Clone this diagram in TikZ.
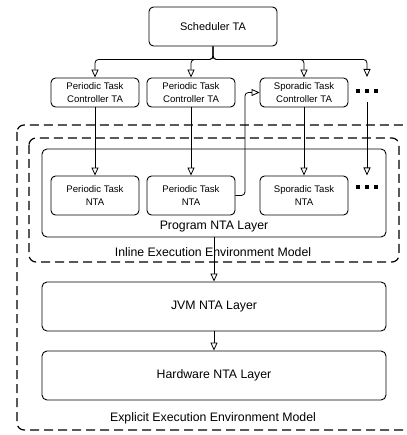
\documentclass[tikz,border=0pt]{standalone}
\usepackage{fontspec}
\setmainfont{Liberation Sans}
\usetikzlibrary{arrows.meta}
\begin{document}
\begin{tikzpicture}[x=1pt,y=-1pt,
  box/.style={draw=black, line width=0.9pt, rounded corners=4.5pt, inner sep=0pt, align=center},
  small/.style={box, minimum width=88pt, minimum height=29pt, font=\fontsize{9.6}{12.3}\selectfont},
  nta/.style={small, minimum height=39pt},
  layer/.style={box, rounded corners=5pt, minimum width=344pt, minimum height=49pt, font=\fontsize{12.3}{14}\selectfont},
  envbox/.style={draw=black, line width=1.2pt, dash pattern=on 9pt off 5pt, rounded corners=7pt},
  envlabel/.style={font=\fontsize{12.3}{14}\selectfont, inner sep=0pt},
  conn/.style={draw=black, line width=0.8pt, rounded corners=3.5pt,
    -{Triangle[open, length=8pt, width=7pt, line width=0.8pt]}},
  dot/.style={fill=black, minimum size=3.8pt, inner sep=0pt}
]
\useasboundingbox (0,0) rectangle (406,435);
\clip (0,0) rectangle (406,435);

% environment frames
\draw[envbox] (17,125) rectangle (424,430);
\node[envlabel] (explicitlbl) at (213,418) {Explicit Execution Environment Model};
\draw[envbox] (29,138) rectangle (399,262);
\node[envlabel] (inlinelbl) at (213,252) {Inline Execution Environment Model};

% program layer
\node[box, rounded corners=5pt, minimum width=344pt, minimum height=88pt] (prog) at (214,193) {};
\node[envlabel] (proglbl) at (214,227) {Program NTA Layer};

% scheduler and controllers
\node[box, minimum width=128pt, minimum height=39pt, font=\fontsize{11}{13}\selectfont] (sched) at (213,26.5) {Scheduler TA};
\node[small] (c1) at (95,92.5) {Periodic Task\\Controller TA};
\node[small] (c2) at (191,92.5) {Periodic Task\\Controller TA};
\node[small] (c3) at (304,92.5) {Sporadic Task\\Controller TA};

% task automata
\node[nta] (n1) at (95,195.5) {Periodic Task\\NTA};
\node[nta] (n2) at (191,195.5) {Periodic Task\\NTA};
\node[nta] (n3) at (304,195.5) {Sporadic Task\\NTA};

% lower layers
\node[layer] (jvm) at (214,306.5) {JVM NTA Layer};
\node[layer] (hw) at (214,375.5) {Hardware NTA Layer};

% ellipsis marks
\foreach \k/\xx in {a/358,b/367,c/376} {
  \node[dot] (dtop\k) at (\xx,91) {};
  \node[dot] (dbot\k) at (\xx,187) {};
}

% helper points
\coordinate (split) at (213,59.5);
\coordinate (moretop) at (367,77);
\coordinate (morefrom) at (367,102);
\coordinate (moreto) at (367,175.5);

% scheduler fan-out
\draw[conn] (sched.south) -- (split) -| (c1.north);
\draw[conn] (sched.south) -- (split) -| (c2.north);
\draw[conn] (sched.south) -- (split) -| (c3.north);
\draw[conn] (sched.south) -- (split) -| (moretop);

% controllers to task automata
\draw[conn] (c1.south) -- (n1.north);
\draw[conn] (c2.south) -- (n2.north);
\draw[conn] (c3.south) -- (n3.north);
\draw[conn] (morefrom) -- (moreto);

% release of the sporadic task
\draw[conn] (n2.east) -- ++(9.5,0) |- (c3.west);

% layer stack
\draw[conn] (prog.south) -- (jvm.north);
\draw[conn] (jvm.south) -- (hw.north);
\end{tikzpicture}
\end{document}
